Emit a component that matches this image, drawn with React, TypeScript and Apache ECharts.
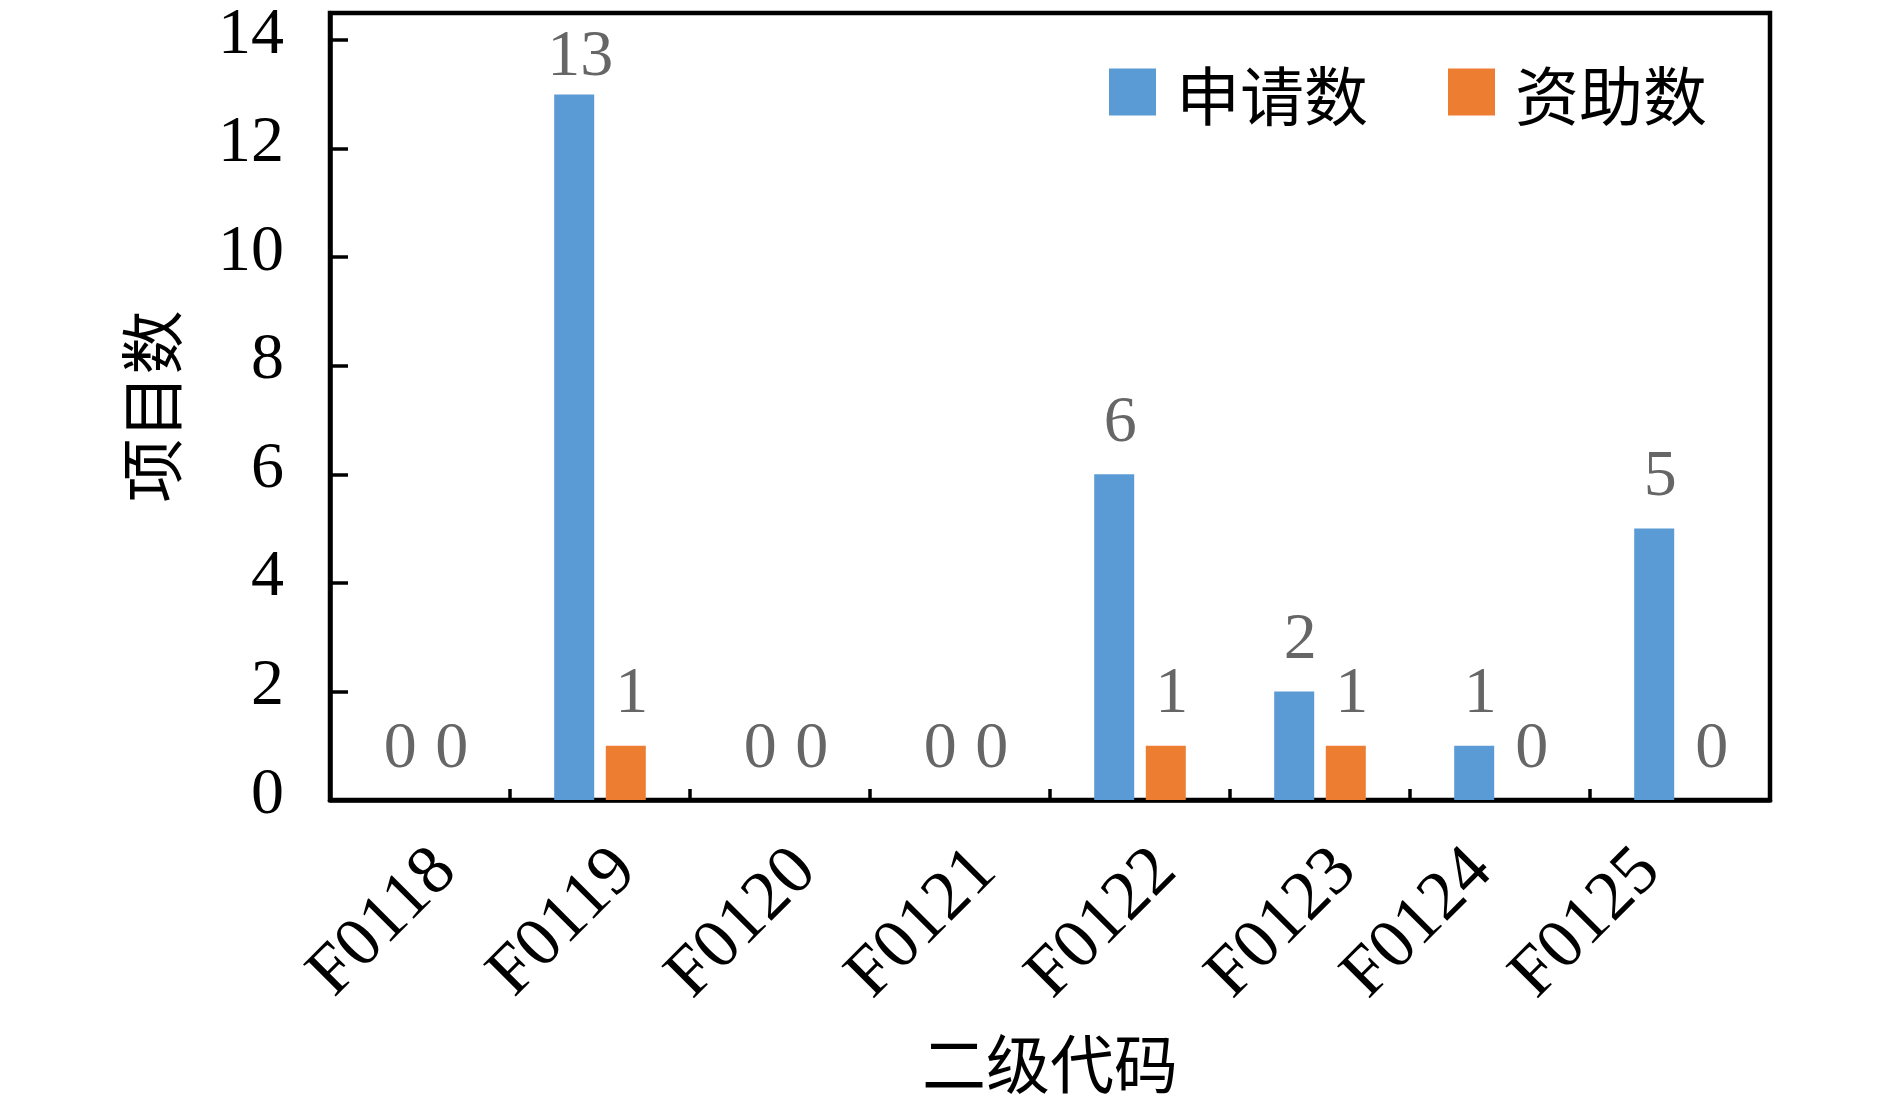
import React, { useEffect, useRef } from "react";
import * as echarts from "echarts";

const categories = ["F0118", "F0119", "F0120", "F0121", "F0122", "F0123", "F0124", "F0125"];
const applied = [0, 13, 0, 0, 6, 2, 1, 5];
const funded = [0, 1, 0, 0, 1, 1, 0, 0];
const seriesNames = ["申请数", "资助数"];
const yMin = 0;
const yMax = 14.5;
const yInterval = 2;
const xName = "二级代码";
const yName = "项目数";

const serif = "Liberation Serif";
const cjk = "Noto Sans CJK SC";

// label placement tweaks (style only): perpendicular shift s, shift back along text r
const defaultShift = { s: 39.6, r: 8.4 };
const labelShift: Record<string, { s: number; r: number }> = {
  F0124: { s: 8.4, r: 39.6 },
  F0125: { s: 0, r: 48 },
};
const shiftOf = (c: string) => labelShift[c] ?? defaultShift;

export default function App() {
  const ref = useRef<HTMLDivElement>(null);

  useEffect(() => {
    if (!ref.current) return;
    const chart = echarts.init(ref.current, null, { renderer: "svg" });
    const maxApplied = Math.max(...applied);
    const labelStyle = {
      show: true,
      position: "top",
      distance: 23,
      offset: [6, 0],
      color: "#666666",
      fontFamily: serif,
      fontSize: 66,
    };
    chart.setOption({
      animation: false,
      backgroundColor: "#ffffff",
      textStyle: { fontFamily: serif },
      grid: {
        left: 330,
        right: 120,
        top: 13,
        bottom: 306,
        show: true,
        borderColor: "#000",
        borderWidth: 4.5,
        containLabel: false,
        outerBoundsMode: "none",
      },
      legend: {
        data: seriesNames,
        left: 1109,
        top: 60,
        padding: 0,
        itemWidth: 47,
        itemHeight: 47,
        itemGap: 80,
        icon: "rect",
        textStyle: { fontFamily: cjk, fontSize: 64, color: "#000", padding: [0, 0, 0, 15] },
      },
      xAxis: {
        type: "category",
        data: categories.map((c) => {
          const sh = shiftOf(c);
          const ts: any = { padding: [0, sh.r, 0, 0] };
          if (sh.s > 0) ts.lineHeight = sh.s * 2;
          return { value: c, textStyle: ts };
        }),
        axisLine: { lineStyle: { color: "#000", width: 4.5 } },
        axisTick: { show: true, inside: true, length: 11, lineStyle: { color: "#000", width: 3.5 } },
        axisLabel: {
          interval: 0,
          rotate: 45,
          margin: 23,
          fontFamily: serif,
          fontSize: 70,
          color: "#000",
          formatter: (v: string) => (shiftOf(v).s > 0 ? "\n" + v : v),
        },
        splitLine: { show: false },
        name: xName,
        nameLocation: "middle",
        nameGap: 228,
        nameTextStyle: { fontFamily: cjk, fontSize: 64, color: "#000" },
      },
      yAxis: {
        type: "value",
        min: yMin,
        max: yMax,
        interval: yInterval,
        axisLine: { show: true, lineStyle: { color: "#000", width: 4.5 } },
        axisTick: { show: true, inside: true, length: 18, lineStyle: { color: "#000", width: 3.5 } },
        axisLabel: {
          showMaxLabel: false,
          margin: 46,
          fontFamily: serif,
          fontSize: 66,
          color: "#000",
          verticalAlign: "bottom",
          lineHeight: 20,
        },
        splitLine: { show: false },
        name: yName,
        nameLocation: "middle",
        nameRotate: 90,
        nameGap: 150,
        nameTextStyle: { fontFamily: cjk, fontSize: 64, color: "#000" },
      },
      series: [
        {
          type: "bar",
          name: seriesNames[0],
          data: applied.map((v) => (v === maxApplied ? { value: v, label: { offset: [6, 14] } } : v)),
          barWidth: 40,
          barGap: "29%",
          itemStyle: { color: "#5B9BD5" },
          label: labelStyle,
        },
        {
          type: "bar",
          name: seriesNames[1],
          data: funded,
          barWidth: 40,
          barGap: "29%",
          itemStyle: { color: "#ED7D31" },
          label: labelStyle,
        },
      ],
    });
    return () => chart.dispose();
  }, []);

  return (
    <div
      ref={ref}
      style={{ position: "absolute", left: 0, top: 0, width: 1890, height: 1106, background: "#fff" }}
    />
  );
}
